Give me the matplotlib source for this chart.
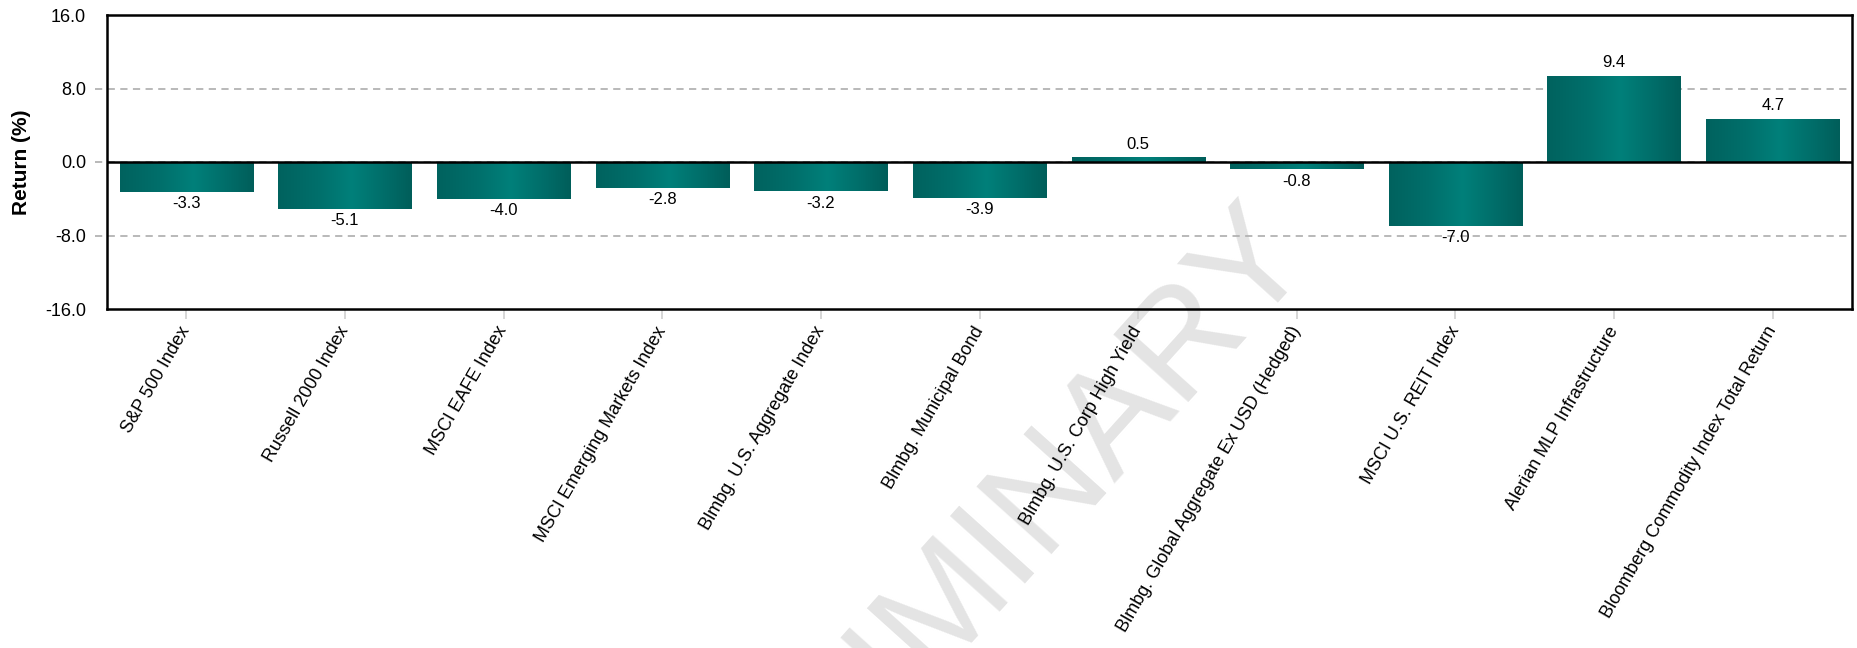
import matplotlib
matplotlib.use("Agg")
import matplotlib.pyplot as plt
import numpy as np
from matplotlib.colors import LinearSegmentedColormap

categories = [
    "S&P 500 Index",
    "Russell 2000 Index",
    "MSCI EAFE Index",
    "MSCI Emerging Markets Index",
    "Blmbg. U.S. Aggregate Index",
    "Blmbg. Municipal Bond",
    "Blmbg. U.S. Corp High Yield",
    "Blmbg. Global Aggregate Ex USD (Hedged)",
    "MSCI U.S. REIT Index",
    "Alerian MLP Infrastructure",
    "Bloomberg Commodity Index Total Return",
]
returns = [-3.3, -5.1, -4.0, -2.8, -3.2, -3.9, 0.5, -0.8, -7.0, 9.4, 4.7]
yticks = [-16.0, -8.0, 0.0, 8.0, 16.0]

plt.rcParams["font.family"] = ["Liberation Sans", "DejaVu Sans"]

fig = plt.figure(figsize=(18.58, 6.48), dpi=100)
ax = fig.add_axes([107 / 1858, 1 - 309 / 648, 1745 / 1858, 294 / 648])
ax.set_facecolor("none")

# watermark behind everything
fig.text(0.512, 0.08, "PRELIMINARY", fontsize=106, color="#e4e4e4",
         rotation=48, ha="center", va="center", zorder=-5)

teal = LinearSegmentedColormap.from_list(
    "teal", [(0, "#00625e"), (0.3, "#006f6b"), (0.55, "#00807a"),
             (0.8, "#006d69"), (1, "#005e5a")])
grad = np.linspace(0, 1, 256).reshape(1, -1)

x = np.arange(len(categories))
bars = ax.bar(x, returns, width=0.84, color="#007570", zorder=3)
for bar, v in zip(bars, returns):
    x0, w = bar.get_x(), bar.get_width()
    im = ax.imshow(grad, cmap=teal, aspect="auto", zorder=3,
                   extent=[x0, x0 + w, min(0, v), max(0, v)])
    im.set_clip_path(bar)
    if v >= 0:
        ax.annotate(f"{v:.1f}", (bar.get_x() + w / 2, v), xytext=(0, 4),
                    textcoords="offset points", ha="center", va="bottom",
                    fontsize=12, zorder=5)
    else:
        ax.annotate(f"{v:.1f}", (bar.get_x() + w / 2, v), xytext=(0, -3),
                    textcoords="offset points", ha="center", va="top",
                    fontsize=12, zorder=5)

ax.set_xlim(-0.5, len(categories) - 0.5)
ax.set_ylim(-16, 16)
ax.set_yticks(yticks)
ax.set_yticklabels([f"{t:.1f}" for t in yticks])

# dashed grid lines that run a little past the left spine
for y in (8, 0, -8):
    ax.axhline(y, xmin=-12 / 1745, xmax=1, color="#b3b3b3", lw=1.3,
               ls=(0, (4, 3)), clip_on=False, zorder=1)
ax.axhline(0, color="black", lw=1.8, zorder=4)

ax.tick_params(axis="y", length=0, pad=15, labelsize=13)
ax.tick_params(axis="x", length=7.5, width=1.2, color="#d0d0d0", pad=6,
               labelsize=13)
ax.set_xticks(x)
ax.set_xticklabels(categories, rotation=60, ha="right", va="center",
                   rotation_mode="anchor")

for s in ax.spines.values():
    s.set_linewidth(1.8)
    s.set_color("black")
    s.set_zorder(6)

ax.set_ylabel("Return (%)", fontsize=15, fontweight="bold", labelpad=10)

fig.savefig("out.png", dpi=100)
